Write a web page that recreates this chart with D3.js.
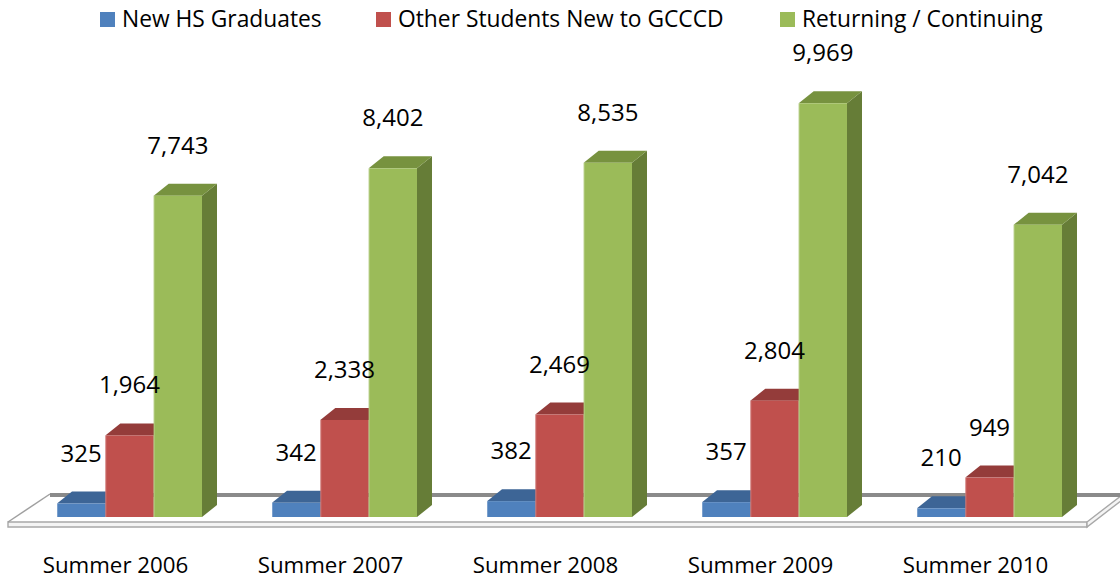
<!DOCTYPE html>
<html>
<head>
<meta charset="utf-8">
<script src="https://cdn.jsdelivr.net/npm/d3@7"></script>
<style>
    body { margin: 0; background: #fff; }
    text { font-family: "Open Sans", sans-serif; fill: #000; }
</style>
</head>
<body>
<div id="chart"></div>
<script>
// Chart data
const categories = ["Summer 2006", "Summer 2007", "Summer 2008", "Summer 2009", "Summer 2010"];
const seriesNames = ["New HS Graduates", "Other Students New to GCCCD", "Returning / Continuing"];
const newHS = [325, 342, 382, 357, 210];
const otherNew = [1964, 2338, 2469, 2804, 949];
const returning = [7743, 8402, 8535, 9969, 7042];

const seriesValues = [newHS, otherNew, returning];
const colors = [
    { front: "#4f81bd", top: "#3d6596", side: "#365a85" },
    { front: "#c0504d", top: "#943c3a", side: "#843533" },
    { front: "#9bbb59", top: "#77923f", side: "#667d37" }
];

const width = 1120;
const height = 581;

const svg = d3.select("#chart")
    .append("svg")
    .attr("width", width)
    .attr("height", height);

// 3d depth offset
const dx = 15;
const dy = -12;

const x0 = d3.scaleBand()
    .domain(categories)
    .range([22, 1097])
    .paddingInner(0.3256)
    .paddingOuter(0.1628);

const x1 = d3.scaleBand()
    .domain(seriesNames)
    .range([0, x0.bandwidth()]);

const y = d3.scaleLinear()
    .domain([0, 10000])
    .range([517, 102]);

// Floor
const floor = svg.append("g").attr("id", "floor");
const fy = 522, by = 495;

floor.append("polygon")
    .attr("points", [[8, fy + 5], [8, fy], [50, by], [1130, by], [1130, fy + 5]].join(" "))
    .attr("fill", "#fff");

floor.append("polygon")
    .attr("points", [[8, fy], [1087, fy], [1087, fy + 5], [8, fy + 5]].join(" "))
    .attr("fill", "#f4f4f4")
    .attr("stroke", "#a8a8a8")
    .attr("stroke-width", 1.4);

floor.append("polygon")
    .attr("points", [[1087, fy], [1122, by], [1122, by + 5], [1087, fy + 5]].join(" "))
    .attr("fill", "#f4f4f4")
    .attr("stroke", "#a8a8a8")
    .attr("stroke-width", 1.4);

floor.append("polyline")
    .attr("points", [[8, fy], [50, by - 1]].join(" "))
    .attr("fill", "none")
    .attr("stroke", "#a0a0a0")
    .attr("stroke-width", 1.5);

floor.append("line")
    .attr("x1", 50).attr("x2", 1125)
    .attr("y1", by).attr("y2", by)
    .attr("stroke", "#8a8a8a")
    .attr("stroke-width", 4);

// Bars
const bars = [];
categories.forEach(function(c, i) {
    seriesNames.forEach(function(s, j) {
        bars.push({ cat: c, series: s, j: j, value: seriesValues[j][i] });
    });
});

const barG = svg.append("g").attr("id", "bars")
    .selectAll("g")
    .data(bars)
    .enter()
    .append("g");

barG.each(function(d) {
    const g = d3.select(this);
    const xa = x0(d.cat) + x1(d.series);
    const xb = xa + x1.bandwidth();
    const yt = y(d.value);
    const yb = y(0);
    const c = colors[d.j];

    g.append("polygon")
        .attr("points", [[xb, yt], [xb + dx, yt + dy], [xb + dx, yb + dy], [xb, yb]].join(" "))
        .attr("fill", c.side);
    g.append("polygon")
        .attr("points", [[xa, yt], [xa + dx, yt + dy], [xb + dx, yt + dy], [xb, yt]].join(" "))
        .attr("fill", c.top);
    g.append("rect")
        .attr("x", xa)
        .attr("y", yt)
        .attr("width", xb - xa)
        .attr("height", yb - yt)
        .attr("fill", c.front);
    g.append("line")
        .attr("x1", xa + 0.5).attr("x2", xa + 0.5)
        .attr("y1", yt).attr("y2", yb)
        .attr("stroke", "#fff")
        .attr("stroke-opacity", 0.25);
});

// Data labels
svg.append("g").attr("id", "labels")
    .selectAll("text")
    .data(bars)
    .enter()
    .append("text")
    .attr("x", d => x0(d.cat) + x1(d.series) + x1.bandwidth() / 2)
    .attr("y", d => y(d.value) - 42)
    .attr("text-anchor", "middle")
    .style("font-size", "24px")
    .text(d => d3.format(",")(d.value));

// Category labels
svg.append("g").attr("id", "categories")
    .selectAll("text")
    .data(categories)
    .enter()
    .append("text")
    .attr("x", d => x0(d) + x0.bandwidth() / 2 - 14)
    .attr("y", 573)
    .attr("text-anchor", "middle")
    .style("font-size", "22.3px")
    .text(d => d);

// Legend
const legendX = [100, 376, 780];
const legend = svg.append("g").attr("id", "legend")
    .selectAll("g")
    .data(seriesNames)
    .enter()
    .append("g")
    .attr("transform", (d, i) => `translate(${legendX[i]}, 12)`);

legend.append("rect")
    .attr("width", 15)
    .attr("height", 15)
    .attr("fill", (d, i) => colors[i].front);

legend.append("text")
    .attr("x", 22)
    .attr("y", 15)
    .style("font-size", "22.8px")
    .text(d => d);
</script>
</body>
</html>
